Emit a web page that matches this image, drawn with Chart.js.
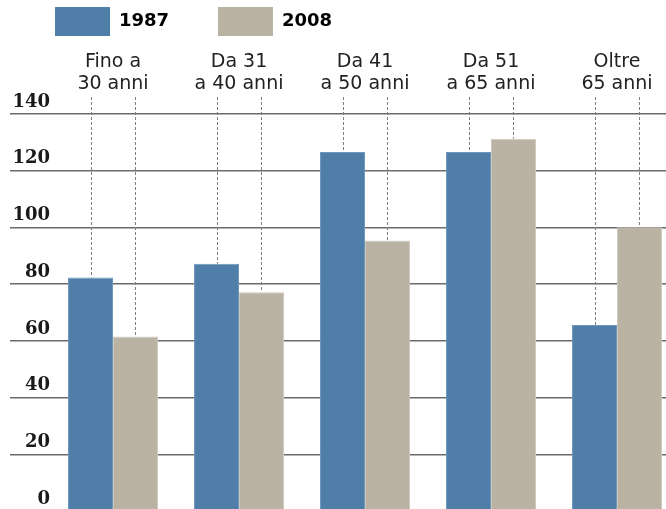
<!DOCTYPE html>
<html>
<head>
<meta charset="utf-8">
<script src="https://cdn.jsdelivr.net/npm/chart.js@4/dist/chart.umd.min.js"></script>
<style>
html, body { margin: 0; padding: 0; overflow: hidden; background: #ffffff; }
#wrap { position: relative; width: 680px; height: 511px; }
</style>
</head>
<body>
<div id="wrap"><canvas id="c" width="680" height="511"></canvas></div>
<script>
const categories = [["Fino a", "30 anni"], ["Da 31", "a 40 anni"], ["Da 41", "a 50 anni"], ["Da 51", "a 65 anni"], ["Oltre", "65 anni"]];
const seriesNames = ["1987", "2008"];
const values1987 = [82.3, 87.2, 126.6, 126.6, 65.6];
const values2008 = [61.5, 77.1, 95.4, 131.3, 100.1];
const yTicks = [0, 20, 40, 60, 80, 100, 120, 140];

const BLUE = '#4f7fa9';
const BEIGE = '#bab3a4';

const dropLines = {
  id: 'dropLines',
  beforeDatasetsDraw(chart) {
    const ctx = chart.ctx;
    const top = chart.chartArea.top - 17;
    ctx.save();
    ctx.strokeStyle = '#7c7c7c';
    ctx.lineWidth = 1;
    ctx.setLineDash([3, 2]);
    chart.data.datasets.forEach((ds, di) => {
      const meta = chart.getDatasetMeta(di);
      meta.data.forEach(bar => {
        const x = Math.round(bar.x) + 0.5;
        ctx.beginPath();
        ctx.moveTo(x, top);
        ctx.lineTo(x, bar.y);
        ctx.stroke();
      });
    });
    ctx.restore();
  }
};

new Chart(document.getElementById('c'), {
  type: 'bar',
  data: {
    labels: categories,
    datasets: [
      { label: seriesNames[0], data: values1987, backgroundColor: BLUE, borderColor: '#6f96bb', borderWidth: 1 },
      { label: seriesNames[1], data: values2008, backgroundColor: BEIGE, borderColor: '#cfc9bd', borderWidth: 1 }
    ]
  },
  options: {
    responsive: false,
    animation: false,
    devicePixelRatio: 1,
    layout: { padding: { left: 10, top: 2, right: 0, bottom: 0 } },
    datasets: { bar: { categoryPercentage: 0.714, barPercentage: 1.0 } },
    plugins: {
      legend: {
        display: true,
        position: 'top',
        align: 'start',
        fullSize: false,
        labels: {
          boxWidth: 55,
          boxHeight: 29,
          padding: 5,
          color: '#222',
          font: { family: 'DejaVu Sans', size: 18, weight: 'bold' },
          generateLabels(chart) {
            return chart.data.datasets.map((ds, i) => ({
              text: i === 0 ? ds.label + '       ' : ds.label,
              fillStyle: ds.backgroundColor,
              strokeStyle: ds.backgroundColor,
              lineWidth: 0,
              hidden: false,
              datasetIndex: i
            }));
          }
        }
      },
      tooltip: { enabled: false }
    },
    scales: {
      x: {
        position: 'top',
        grid: { display: false },
        border: { display: false },
        ticks: {
          color: '#222',
          padding: 11,
          font: { family: 'DejaVu Sans', size: 19, lineHeight: 1.16 }
        },
        afterFit(s) { s.height = 68; }
      },
      y: {
        min: 0,
        max: 140,
        afterBuildTicks(s) { s.ticks = yTicks.map(v => ({ value: v })); },
        grid: { color: '#6a6a6a', lineWidth: 1.5, drawTicks: true, tickLength: 40, tickColor: '#6a6a6a' },
        border: { display: false },
        ticks: {
          color: '#1a1a1a',
          padding: -40,
          labelOffset: -12,
          font: { family: 'DejaVu Serif', size: 18, weight: 'bold' }
        },
        afterFit(s) { s.width = 40; }
      }
    }
  },
  plugins: [dropLines]
});
</script>
</body>
</html>
